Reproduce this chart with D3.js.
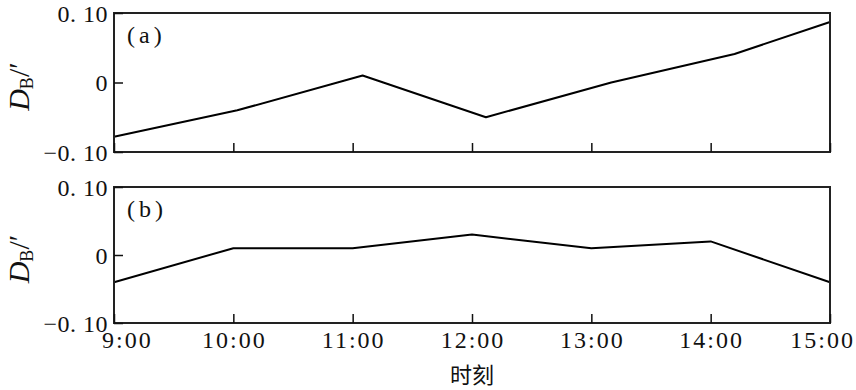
<!DOCTYPE html>
<html>
<head>
<meta charset="utf-8">
<script src="https://cdn.jsdelivr.net/npm/d3@7"></script>
<style>
  body { margin: 0; background: #fff; }
  text { font-family: "Liberation Serif", "DejaVu Serif", serif; fill: #111; }
</style>
</head>
<body>
<div id="chart"></div>
<script>
// sample times and values for both panels
const timesA = ["9:00", "10:02", "11:05", "12:07", "13:10", "14:12", "15:00"];
const valuesA = [-0.078, -0.04, 0.01, -0.05, 0.0, 0.041, 0.087];

const timesB = ["9:00", "10:00", "11:00", "12:00", "13:00", "14:00", "15:00"];
const valuesB = [-0.04, 0.01, 0.01, 0.03, 0.01, 0.02, -0.04];

const xTicks = [9, 10, 11, 12, 13, 14, 15];
const yTicks = [-0.1, 0, 0.1];
const yTickLabels = ["\u22120. 10", "0", "0. 10"];
const panelLabels = ["(a)", "(b)"];
const xTitle = "时刻";

// "hh:mm" -> hours as a number
function parseTime(s) {
  const t = s.match(/(\d+):(\d+)/);
  return +t[1] + +t[2] / 60;
}

const W = 856, H = 390;
const margin = { left: 114, right: 26 };
const panels = [
  { top: 13, bottom: 152, times: timesA, values: valuesA, label: panelLabels[0], showX: false },
  { top: 187, bottom: 323, times: timesB, values: valuesB, label: panelLabels[1], showX: true }
];

const svg = d3.select("#chart")
  .append("svg")
    .attr("width", W)
    .attr("height", H);

const x = d3.scaleLinear()
  .domain([9, 15])
  .range([margin.left, W - margin.right]);

panels.forEach(p => {
  const y = d3.scaleLinear()
    .domain([-0.1, 0.1])
    .range([p.bottom, p.top]);

  const g = svg.append("g");

  // data line
  const line = d3.line()
    .x((d, i) => x(parseTime(p.times[i])))
    .y(d => y(d));

  g.append("path")
    .datum(p.values)
    .attr("fill", "none")
    .attr("stroke", "#000")
    .attr("stroke-width", 2)
    .attr("stroke-linejoin", "round")
    .attr("d", line);

  // frame
  g.append("rect")
    .attr("x", x(9))
    .attr("y", p.top)
    .attr("width", x(15) - x(9))
    .attr("height", p.bottom - p.top)
    .attr("fill", "none")
    .attr("stroke", "#222")
    .attr("stroke-width", 2);

  // x ticks, pointing inward
  const xAxis = g.append("g")
    .attr("transform", "translate(0," + p.bottom + ")")
    .call(d3.axisTop(x)
      .tickValues(xTicks)
      .tickSize(9)
      .tickFormat(""));
  xAxis.select(".domain").remove();
  xAxis.selectAll("line").attr("stroke", "#111").attr("stroke-width", 1.5);

  if (p.showX) {
    const last = xTicks.length - 1;
    g.selectAll(".xlab")
      .data(xTicks)
      .enter()
      .append("text")
        // end labels are pulled inside the frame like the original
        .attr("x", (d, i) => i === 0 ? x(d) - 12 : i === last ? x(d) + 25 : x(d) + 1)
        .attr("y", p.bottom + 25)
        .attr("text-anchor", (d, i) => i === 0 ? "start" : i === last ? "end" : "middle")
        .attr("font-size", 24)
        .attr("letter-spacing", 2)
        .text(d => d + ":00");
  }

  // y ticks, pointing inward
  const yAxis = g.append("g")
    .attr("transform", "translate(" + x(9) + ",0)")
    .call(d3.axisRight(y)
      .tickValues(yTicks)
      .tickSize(9)
      .tickFormat(""));
  yAxis.select(".domain").remove();
  yAxis.selectAll("line").attr("stroke", "#111").attr("stroke-width", 1.5);

  g.selectAll(".ylab")
    .data(yTicks)
    .enter()
    .append("text")
      .attr("x", x(9) - 6)
      .attr("y", d => y(d))
      .attr("dy", "0.36em")
      .attr("text-anchor", "end")
      .attr("font-size", 24)
      .attr("letter-spacing", 0.5)
      .text((d, i) => yTickLabels[i]);

  // panel label
  g.append("text")
    .attr("x", x(9) + 13)
    .attr("y", p.top + 30)
    .attr("font-size", 24)
    .attr("letter-spacing", 4)
    .text(p.label);

  // y title D_B/′
  const cy = (p.top + p.bottom) / 2 + 4;
  const yt = g.append("text")
    .attr("transform", "translate(29," + cy + ") rotate(-90)")
    .attr("text-anchor", "middle")
    .attr("font-size", 30);
  yt.append("tspan").attr("font-style", "italic").text("D");
  yt.append("tspan").attr("font-size", 18).attr("dy", 4).text("B");
  yt.append("tspan").attr("dy", -4).text("/\u2032");
});

// x title
svg.append("text")
  .attr("x", x(12))
  .attr("y", 383)
  .attr("text-anchor", "middle")
  .attr("font-size", 22)
  .style("font-family", "'Noto Sans CJK SC', sans-serif")
  .text(xTitle);
</script>
</body>
</html>
